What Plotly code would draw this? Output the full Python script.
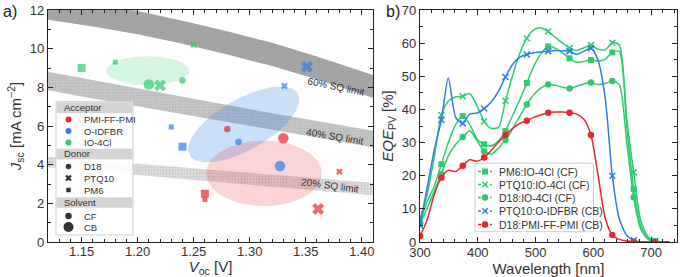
import numpy as np
import plotly.graph_objects as go

FONT = "Liberation Sans, Arial, sans-serif"
RED, BLUE, GREEN = "#E9262B", "#2D7FE2", "#2DCB70"

# ---------------- Panel a) data ----------------
acceptor = ["IO-4Cl", "IO-4Cl", "IO-4Cl", "IO-4Cl", "IO-4Cl", "IO-4Cl",
            "O-IDFBR", "O-IDFBR", "O-IDFBR", "O-IDFBR", "O-IDFBR", "O-IDFBR",
            "PMI-FF-PMI", "PMI-FF-PMI", "PMI-FF-PMI", "PMI-FF-PMI", "PMI-FF-PMI", "PMI-FF-PMI"]
donor = ["PM6", "PM6", "PTQ10", "PTQ10", "D18", "D18",
         "PTQ10", "PTQ10", "PM6", "PM6", "D18", "D18",
         "D18", "D18", "PM6", "PM6", "PTQ10", "PTQ10"]
solvent = ["CB", "CF", "CF", "CB", "CB", "CF",
           "CB", "CF", "CF", "CB", "CF", "CB",
           "CF", "CB", "CF", "CB", "CB", "CF"]
voc = [1.150, 1.180, 1.250, 1.220, 1.210, 1.240,
       1.351, 1.331, 1.230, 1.240, 1.290, 1.327,
       1.280, 1.330, 1.260, 1.260, 1.361, 1.380]
jsc = [9.00, 9.30, 10.20, 8.10, 8.15, 8.35,
       9.07, 8.07, 5.95, 4.93, 5.17, 3.93,
       5.85, 5.37, 2.20, 2.50, 1.71, 3.64]

# SQ-limit bands (Voc grid, upper / lower Jsc)
sq_voc = [1.12, 1.16, 1.20, 1.24, 1.28, 1.32, 1.36, 1.40, 1.42]
sq60_hi = [12.7, 12.35, 11.95, 11.45, 10.9, 10.3, 9.6, 8.85, 8.45]
sq60_lo = [11.5, 11.15, 10.75, 10.25, 9.7, 9.1, 8.4, 7.65, 7.25]
sq40_hi = [8.8, 8.36, 7.93, 7.5, 7.08, 6.66, 6.25, 5.85, 5.65]
sq40_lo = [7.85, 7.42, 7.0, 6.6, 6.2, 5.8, 5.4, 5.0, 4.8]
sq20_hi = [4.41, 4.22, 4.04, 3.85, 3.67, 3.48, 3.3, 3.11, 3.02]
sq20_lo = [3.86, 3.66, 3.46, 3.26, 3.06, 2.86, 2.66, 2.46, 2.37]
sq_labels = ["60% SQ limit", "40% SQ limit", "20% SQ limit"]

# ---------------- Panel b) data ----------------
wavelength = [300, 312, 325, 337, 349, 362, 374, 386, 399, 411, 423, 436, 448, 460, 473, 485, 497, 510,
              522, 534, 547, 559, 571, 584, 596, 608, 621, 633, 645, 658, 670, 682, 695, 707, 719, 732]
eqe_pm6_io4cl_cf = [6, 12, 17, 23.5, 30, 35.5, 38, 35.5, 31, 29.5, 29, 30.5, 33.5, 38, 43, 48, 53, 57,
                    59, 58.5, 57, 55.4, 54.2, 54.5, 54.9, 54.6, 55.2, 57.2, 57.5, 35, 16, 5, 1, 0.2, 0, 0]
eqe_ptq10_io4cl_cf = [7, 14, 26, 38.3, 42.5, 43.8, 44, 44.8, 41, 36.4, 34.3, 34.6, 42.6, 50, 57, 61.5, 64, 64.6,
                      63.5, 61.8, 60, 58.5, 57.8, 58.6, 59.4, 58.2, 58, 60.1, 59.5, 37, 21, 6.6, 1.5, 0.3, 0, 0]
eqe_d18_io4cl_cf = [5.5, 10, 15.5, 20.5, 26, 29.5, 31.7, 33.6, 30.5, 27.4, 26.5, 28.3, 30.8, 34, 38, 41.5, 44.5, 46.5,
                    47.5, 47.3, 46.7, 46.3, 47, 47.7, 48.1, 47.5, 47.8, 48.6, 47.5, 30, 13.5, 4, 0.8, 0.1, 0, 0]
eqe_ptq10_oidfbr_cb = [5, 16, 28, 36.8, 49.5, 37.5, 35.8, 38.6, 38.9, 40.3, 42.2, 45.5, 49.8, 53.5, 55.8, 56.6, 57.1, 57.3,
                       57.6, 57.8, 57.7, 57.6, 56.6, 57.6, 58.5, 55, 43, 20, 7, 2, 0.5, 0.1, 0, 0, 0, 0]
eqe_d18_pmi_cb = [1.8, 6.5, 14.5, 19.4, 21.6, 21.3, 23.0, 24.8, 24.4, 25.5, 27.6, 30.2, 32.3, 34.2, 35.8, 36.6, 37.6, 38.4,
                  39.0, 39.2, 39.2, 39.0, 38.6, 37.0, 32.3, 20.5, 7.0, 2.1, 0.8, 0.3, 0.1, 0, 0, 0, 0, 0]
series_labels = ["PM6:IO-4Cl (CF)", "PTQ10:IO-4Cl (CF)", "D18:IO-4Cl (CF)",
                 "PTQ10:O-IDFBR (CB)", "D18:PMI-FF-PMI (CB)"]
series_values = [eqe_pm6_io4cl_cf, eqe_ptq10_io4cl_cf, eqe_d18_io4cl_cf,
                 eqe_ptq10_oidfbr_cb, eqe_d18_pmi_cb]

# ---------------- styling ----------------
acc_color = {"PMI-FF-PMI": RED, "O-IDFBR": BLUE, "IO-4Cl": GREEN}
don_symbol = {"D18": "circle", "PTQ10": "x", "PM6": "square"}
size_map = {("circle", "CF"): 6.5, ("circle", "CB"): 10.5, ("x", "CF"): 6.0, ("x", "CB"): 10.5,
            ("square", "CF"): 5.0, ("square", "CB"): 8.0}
series_colors = [GREEN, GREEN, GREEN, BLUE, RED]
series_symbols = ["square", "x-thin", "circle", "x-thin", "circle"]

W, H = 680, 277
ML, MR, MT, MB = 48, 3, 10, 35
PW, PH = W - ML - MR, H - MT - MB


def px2x(px):
    return (px - ML) / PW


def py2y(py):
    return (H - MB - py) / PH


fig = go.Figure()

# bands
band_cols = ["rgb(165,165,165)", "rgb(196,196,196)", "rgb(218,218,218)"]
for hi, lo, col in [(sq60_hi, sq60_lo, band_cols[0]), (sq40_hi, sq40_lo, band_cols[1]),
                    (sq20_hi, sq20_lo, band_cols[2])]:
    fig.add_trace(go.Scatter(x=sq_voc + sq_voc[::-1], y=hi + lo[::-1], fill="toself", fillcolor=col,
                             fillpattern=dict(shape=".", size=3, solidity=0.2, fgcolor="#7a7a7a",
                                              fgopacity=0.22, bgcolor=col),
                             mode="lines", line=dict(width=0), hoverinfo="skip", showlegend=False,
                             xaxis="x", yaxis="y"))

# ellipses (group regions)
ellipses = [  # cx, cy, ux, uy, vx, vy, fill
    (1.209, 8.86, 0.037, 0.0, 0.0, 0.75, "rgba(45,203,112,0.20)"),
    (1.2946, 6.08, 0.0483, 1.589, 0.01125, -1.148, "rgba(45,127,226,0.25)"),
    (1.3127, 3.55, 0.0516, 0.0, 0.0, 1.69, "rgba(233,38,43,0.20)"),
]
t = np.linspace(0, 2 * np.pi, 120)
for cx, cy, ux, uy, vx, vy, fc in ellipses:
    fig.add_trace(go.Scatter(x=cx + ux * np.cos(t) + vx * np.sin(t), y=cy + uy * np.cos(t) + vy * np.sin(t),
                             fill="toself", fillcolor=fc, mode="lines", line=dict(width=0),
                             hoverinfo="skip", showlegend=False, xaxis="x", yaxis="y"))

# SQ labels
lab_pos = [(1.377, 8.03, 11.5), (1.376, 5.48, 9.5), (1.372, 2.91, 7.5)]

# data markers panel a
fig.add_trace(go.Scatter(
    x=voc, y=jsc, mode="markers", showlegend=False, xaxis="x", yaxis="y",
    marker=dict(color=[acc_color[a] for a in acceptor],
                symbol=[don_symbol[d] for d in donor],
                size=[size_map[(don_symbol[d], s)] for d, s in zip(donor, solvent)],
                line=dict(width=0))))

# panel b curves
for vals, col, sym in zip(series_values, series_colors, series_symbols):
    fig.add_trace(go.Scatter(x=wavelength, y=vals, mode="lines", line=dict(color=col, width=1.5, shape="spline",
                                                                           smoothing=0.7),
                             showlegend=False, xaxis="x2", yaxis="y2", hoverinfo="skip"))
    mk = dict(color=col, symbol=sym, size=6.5 if sym == "circle" else 6)
    if sym == "x-thin":
        mk = dict(color=col, symbol="x-thin", size=6, line=dict(color=col, width=1.5))
    fig.add_trace(go.Scatter(x=wavelength[::3], y=vals[::3], mode="markers", marker=mk,
                             showlegend=False, xaxis="x2", yaxis="y2"))

axis_common = dict(showline=True, linecolor="#222", linewidth=1.2, mirror="ticks", ticks="inside",
                   ticklen=5, tickwidth=1.1, tickcolor="#222", showgrid=False, zeroline=False,
                   tickfont=dict(size=13, color="#333", family=FONT))
title_font = dict(size=15, color="#333", family=FONT)

fig.update_layout(
    width=W, height=H, margin=dict(l=ML, r=MR, t=MT, b=MB),
    paper_bgcolor="white", plot_bgcolor="white", showlegend=False,
    font=dict(family=FONT, size=13, color="#333"),
    xaxis=dict(domain=[0, 325 / PW], range=[1.12, 1.41], tickvals=[1.15, 1.20, 1.25, 1.30, 1.35, 1.40],
               ticktext=["1.15", "1.20", "1.25", "1.30", "1.35", "1.40"], ticklabelstandoff=-3,
               minor=dict(ticks="inside", ticklen=2.5, dtick=0.01, tick0=1.12, tickcolor="#222", showgrid=False),
               title=dict(text="<i>V</i><sub>oc</sub> [V]", font=title_font, standoff=6),
               anchor="y", **axis_common),
    yaxis=dict(domain=[0, 1], range=[0, 12], dtick=2,
               minor=dict(ticks="inside", ticklen=2.5, dtick=1, tickcolor="#222", showgrid=False),
               title=dict(text="<i>J</i><sub>sc</sub> [mA cm<sup>\u22122</sup>]", font=title_font, standoff=4),
               anchor="x", **axis_common),
    xaxis2=dict(domain=[(420 - ML) / PW, 1], range=[300, 745], dtick=100, ticklabelstandoff=-2,
                minor=dict(ticks="inside", ticklen=2.5, dtick=20, tickcolor="#222", showgrid=False),
                title=dict(text="Wavelength [nm]", font=title_font, standoff=5),
                anchor="y2", **axis_common),
    yaxis2=dict(domain=[0, 1], range=[0, 70], dtick=10,
                minor=dict(ticks="inside", ticklen=2.5, dtick=5, tickcolor="#222", showgrid=False),
                title=dict(text="<i>EQE</i><sub>PV</sub> [%]", font=title_font, standoff=4),
                anchor="x2", **axis_common),
)

shapes = []
ann = []

# SQ labels annotations
for txt, (x, y, ang) in zip(sq_labels, lab_pos):
    ann.append(dict(x=x, y=y, xref="x", yref="y", text=txt, showarrow=False, textangle=ang,
                    font=dict(size=10, color="#333", family=FONT)))

# panel labels
ann.append(dict(x=px2x(1), y=py2y(1), xref="paper", yref="paper", text="a)", showarrow=False,
                xanchor="left", yanchor="top", font=dict(size=16, color="#222", family=FONT)))
ann.append(dict(x=px2x(384), y=py2y(1), xref="paper", yref="paper", text="b)", showarrow=False,
                xanchor="left", yanchor="top", font=dict(size=16, color="#222", family=FONT)))


def rect(x0, y0, x1, y1, fill, line=None):
    return dict(type="rect", xref="paper", yref="paper", x0=px2x(x0), x1=px2x(x1), y0=py2y(y1), y1=py2y(y0),
                fillcolor=fill, line=line or dict(width=0), layer="above")


def marker_shape(px, py, sym, d, color, thin=False):
    base = dict(xref="paper", yref="paper", xsizemode="pixel", ysizemode="pixel",
                xanchor=px2x(px), yanchor=py2y(py), layer="above")
    if sym == "circle":
        base.update(type="circle", x0=-d / 2, x1=d / 2, y0=-d / 2, y1=d / 2, fillcolor=color, line=dict(width=0))
    elif sym == "square":
        base.update(type="rect", x0=-d / 2, x1=d / 2, y0=-d / 2, y1=d / 2, fillcolor=color, line=dict(width=0))
    else:
        a = d / 2
        base.update(type="path", path=f"M{-a},{-a}L{a},{a}M{-a},{a}L{a},{-a}",
                    line=dict(color=color, width=1.4 if thin else 2.3))
    return base


# ---- legend panel a ----
shapes.append(rect(56, 101.7, 133, 235, "rgba(255,255,255,0.9)", dict(color="#cfcfcf", width=1)))
leg_font = dict(size=9.5, color="#333", family=FONT)
for y0, y1, txt in [(102.2, 113.2, "Acceptor"), (148.7, 159.2, "Donor"), (197.3, 207.8, "Solvent")]:
    shapes.append(rect(56.5, y0, 132.5, y1, "#d4d4d4"))
    ann.append(dict(x=px2x(62), y=py2y((y0 + y1) / 2), xref="paper", yref="paper", text=txt, showarrow=False,
                    xanchor="left", yanchor="middle", font=leg_font))
leg_items = [
    (119.5, "PMI-FF-PMI", "circle", 6, acc_color["PMI-FF-PMI"]),
    (131.0, "O-IDFBR", "circle", 6, acc_color["O-IDFBR"]),
    (142.5, "IO-4Cl", "circle", 6, acc_color["IO-4Cl"]),
    (166.5, "D18", "circle", 5.5, "#333"),
    (178.0, "PTQ10", "x", 5, "#333"),
    (190.0, "PM6", "square", 4.5, "#333"),
    (216.0, "CF", "circle", 6.5, "#333"),
    (227.0, "CB", "circle", 10, "#333"),
]
for py, txt, sym, d, col in leg_items:
    shapes.append(marker_shape(68.5, py, sym, d, col))
    ann.append(dict(x=px2x(82), y=py2y(py), xref="paper", yref="paper", text=txt, showarrow=False,
                    xanchor="left", yanchor="middle", font=leg_font))

# ---- legend panel b ----
shapes.append(rect(475, 163.3, 593.5, 231.7, "rgba(255,255,255,0.9)", dict(color="#cfcfcf", width=1)))
rows = [171.5, 184.5, 197.5, 211.0, 224.5]
for py, txt, col, sym in zip(rows, series_labels, series_colors, series_symbols):
    shapes.append(dict(type="line", xref="paper", yref="paper", x0=px2x(478), x1=px2x(492),
                       y0=py2y(py), y1=py2y(py), line=dict(color=col, width=1.5, dash="dot"), layer="above"))
    if sym == "x-thin":
        shapes.append(marker_shape(485, py, "x", 5.5, col, thin=True))
    else:
        shapes.append(marker_shape(485, py, sym, 6.5 if sym == "circle" else 6, col))
    ann.append(dict(x=px2x(497), y=py2y(py), xref="paper", yref="paper", text=txt, showarrow=False,
                    xanchor="left", yanchor="middle", font=dict(size=10.5, color="#333", family=FONT)))

fig.update_layout(shapes=shapes, annotations=ann)
fig.write_html("out.html", config={"displayModeBar": False},
               post_script="document.body.style.margin='0';document.body.style.overflow='hidden';")
